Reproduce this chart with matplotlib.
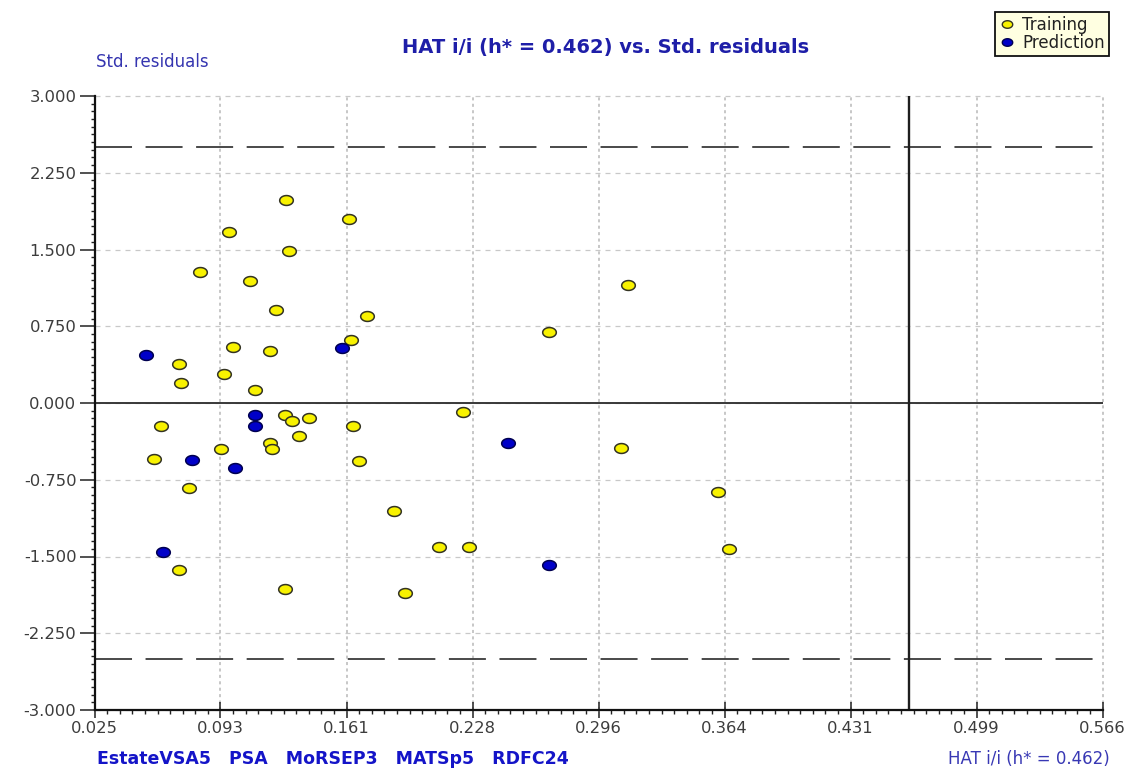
import numpy as np
import matplotlib
matplotlib.use("Agg")
import matplotlib.pyplot as plt
from matplotlib.path import Path
from matplotlib.lines import Line2D

# ---------------- data ----------------
train_hat = [0.128, 0.1617, 0.0972, 0.1292, 0.0816, 0.1083, 0.1226, 0.1715, 0.1626,
             0.0993, 0.119, 0.0701, 0.0945, 0.0716, 0.1113, 0.127, 0.1312, 0.1401,
             0.0605, 0.1635, 0.1346, 0.119, 0.1203, 0.0927, 0.0572, 0.1669, 0.0759,
             0.1857, 0.21, 0.0703, 0.127, 0.1914, 0.3112, 0.269, 0.2227, 0.3078,
             0.3599, 0.226, 0.3657]
train_res = [1.984, 1.80, 1.668, 1.483, 1.284, 1.193, 0.906, 0.850, 0.616,
             0.550, 0.508, 0.378, 0.283, 0.193, 0.127, -0.120, -0.176, -0.147,
             -0.225, -0.225, -0.320, -0.394, -0.450, -0.450, -0.544, -0.567, -0.834,
             -1.056, -1.411, -1.636, -1.822, -1.858, 1.157, 0.694, -0.085, -0.440,
             -0.873, -1.411, -1.424]
pred_hat = [0.158, 0.0528, 0.1113, 0.1113, 0.0771, 0.1004, 0.2469, 0.0615, 0.269]
pred_res = [0.535, 0.469, -0.120, -0.225, -0.557, -0.635, -0.388, -1.453, -1.584]

h_star = 0.462
warn_res = 2.5
x_min, x_max = 0.025, 0.566
y_min, y_max = -3.0, 3.0
x_tick_labels = ["0.025", "0.093", "0.161", "0.228", "0.296", "0.364", "0.431", "0.499", "0.566"]
y_tick_labels = ["-3.000", "-2.250", "-1.500", "-0.750", "0.000", "0.750", "1.500", "2.250", "3.000"]
descriptors = "EstateVSA5   PSA   MoRSEP3   MATSp5   RDFC24"
title = "HAT i/i (h* = 0.462) vs. Std. residuals"

# ---------------- figure ----------------
W, H = 1131, 770
fig = plt.figure(figsize=(W / 100, H / 100), dpi=100)
fig.patch.set_facecolor("white")
ax = fig.add_axes([94.5 / W, 1 - 710 / H, 1008 / W, 614 / H])
ax.set_xlim(x_min, x_max)
ax.set_ylim(y_min, y_max)

# elliptical marker (the original is horizontally stretched)
t = np.linspace(0, 2 * np.pi, 60)
ell = Path(np.column_stack([1.38 * np.cos(t), np.sin(t)]), closed=True)

tick_col = "#3c3c3c"
xt = np.linspace(x_min, x_max, len(x_tick_labels))
yt = np.linspace(y_min, y_max, len(y_tick_labels))
ax.set_xticks(xt)
ax.set_xticklabels(x_tick_labels)
ax.set_yticks(yt)
ax.set_yticklabels(y_tick_labels)
ax.set_xticks(np.linspace(x_min, x_max, 81), minor=True)
ax.set_yticks(np.linspace(y_min, y_max, 81), minor=True)

ax.tick_params(axis="x", which="major", direction="inout", length=11, width=1.1,
               pad=2.5, labelsize=11.8, labelcolor=tick_col, color="#222222")
ax.tick_params(axis="x", which="minor", direction="out", length=3.2, width=1.0, color="#222222")
ax.tick_params(axis="y", which="major", direction="out", length=11, width=1.1,
               pad=2, labelsize=11.8, labelcolor=tick_col, color="#222222")
ax.tick_params(axis="y", which="minor", direction="out", length=3.2, width=1.0, color="#222222")

for s in ["top", "right"]:
    ax.spines[s].set_visible(False)
for s in ["left", "bottom"]:
    ax.spines[s].set_linewidth(1.6)
    ax.spines[s].set_color("#111111")

ax.yaxis.grid(True, which="major", linestyle=(0, (4, 4)), color="#c8c8c8", lw=0.9)
ax.xaxis.grid(True, which="major", linestyle=(0, (2, 2.2)), color="#b8b8b8", lw=1.1)
for gl in ax.get_xgridlines() + ax.get_ygridlines():
    gl.set_clip_on(False)
ax.set_axisbelow(True)

# reference lines
ax.axhline(warn_res, color="#3a3a3a", lw=1.3, linestyle=(0, (20.5, 7.5)), zorder=2)
ax.axhline(-warn_res, color="#3a3a3a", lw=1.3, linestyle=(0, (20.5, 7.5)), zorder=2)
ax.axhline(0, color="#2a2a2a", lw=1.3, zorder=2)
ax.axvline(h_star, color="#1e1e1e", lw=1.7, zorder=2)

# points
ax.plot(train_hat, train_res, linestyle="none", marker=ell, markersize=9.8,
        markerfacecolor="#f8f200", markeredgecolor="#333322", markeredgewidth=1.1,
        zorder=4, label="Training")
ax.plot(pred_hat, pred_res, linestyle="none", marker=ell, markersize=9.8,
        markerfacecolor="#0000c8", markeredgecolor="#000050", markeredgewidth=1.1,
        zorder=4, label="Prediction")

# legend
handles = [
    Line2D([], [], linestyle="none", marker=ell, markersize=7.5, markerfacecolor="#f8f200",
           markeredgecolor="#333322", markeredgewidth=1.0),
    Line2D([], [], linestyle="none", marker=ell, markersize=7.5, markerfacecolor="#0000c8",
           markeredgecolor="#000050", markeredgewidth=1.0),
]
leg = fig.legend(handles, ["Training", "Prediction"], loc="upper right",
                 bbox_to_anchor=(1109 / W, 1 - 12 / H), frameon=True, fancybox=False,
                 shadow=False, framealpha=1, facecolor="#ffffe1", edgecolor="#111111",
                 fontsize=12, borderpad=0.25, labelspacing=0.0, handlelength=1.0,
                 handletextpad=0.4, borderaxespad=0)
leg._legend_box.sep = 0
leg.get_frame().set_linewidth(1.3)
for txt in leg.get_texts():
    txt.set_color("#222222")

# texts
fig.text(606 / W, 1 - 48 / H, title, ha="center", va="center", fontsize=14,
         fontweight="bold", color="#1e1ea8")
fig.text(96 / W, 1 - 62 / H, "Std. residuals", ha="left", va="center", fontsize=12,
         color="#3535b0")
fig.text(97 / W, 1 - 759 / H, descriptors, ha="left", va="center", fontsize=12.5,
         fontweight="bold", color="#1414c8")
fig.text(1110 / W, 1 - 759 / H, "HAT i/i (h* = 0.462)", ha="right", va="center",
         fontsize=12, color="#3838b4")

fig.savefig("out.png", dpi=100, facecolor="white")
